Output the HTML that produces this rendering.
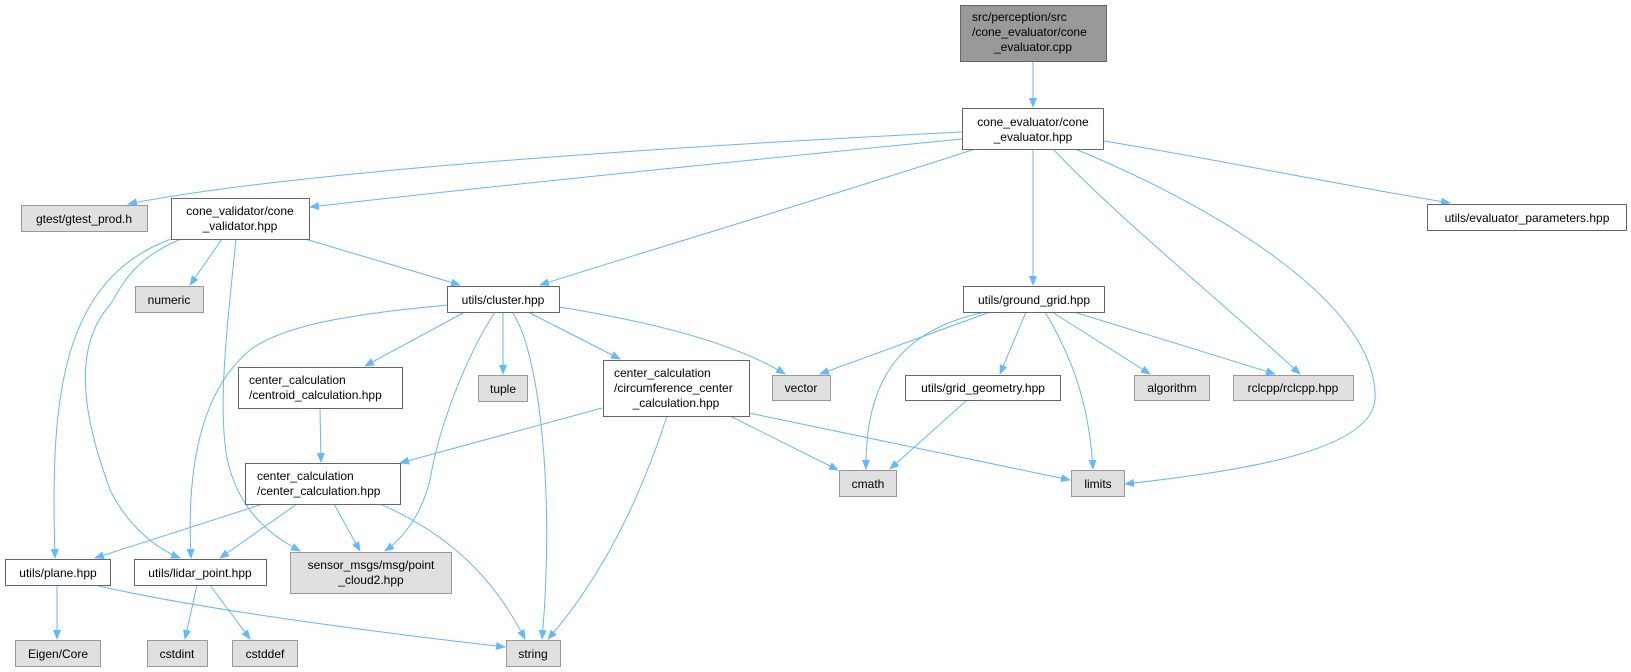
<!DOCTYPE html>
<html><head><meta charset="utf-8"><style>
html,body{margin:0;padding:0;background:#fff;}
svg{display:block;}
text{font-family:"Liberation Sans",Arial,sans-serif;font-size:12px;fill:#000;}
.n{fill:#fff;stroke:#666;stroke-width:1;}
.g{fill:#e0e0e0;stroke:#999;stroke-width:1;}
.r{fill:#999;stroke:#666;stroke-width:1;}
.e{fill:none;stroke:#63b8ff;stroke-width:1;}
</style></head><body>
<svg width="1631" height="672" viewBox="0 0 1631 672" xmlns="http://www.w3.org/2000/svg">
<defs><marker id="a" markerWidth="10" markerHeight="8" refX="9" refY="4" orient="auto" markerUnits="userSpaceOnUse"><path d="M0,0 L10,4 L0,8 Z" fill="#63b8ff"/></marker></defs>
<g marker-end="url(#a)">
<path class="e" d="M1033,61 L1033,107"/>
<path class="e" d="M962,132 C700,145 300,170 128,204"/>
<path class="e" d="M962,139 C800,155 500,185 310,207"/>
<path class="e" d="M975,149 C850,190 650,250 540,285"/>
<path class="e" d="M1033,149 L1033,285"/>
<path class="e" d="M1053,149 C1120,220 1220,300 1300,374"/>
<path class="e" d="M1075,149 C1200,200 1380,300 1375,400 C1370,450 1250,470 1125,484"/>
<path class="e" d="M1104,141 C1220,160 1340,185 1450,203"/>
<path class="e" d="M171,239 C60,280 50,400 55,558"/>
<path class="e" d="M181,239 C130,260 120,290 110,305 C60,360 100,460 110,490 C130,530 160,550 180,558"/>
<path class="e" d="M222,239 L190,285"/>
<path class="e" d="M236,239 C228,320 215,420 230,470 C245,520 280,540 300,551"/>
<path class="e" d="M305,239 L460,285"/>
<path class="e" d="M447,305 C380,312 290,320 250,350 C190,400 188,500 191,558"/>
<path class="e" d="M465,312 L365,366"/>
<path class="e" d="M503,312 L503,374"/>
<path class="e" d="M495,312 C470,350 440,420 430,480 C420,520 400,540 385,551"/>
<path class="e" d="M512,312 C540,350 555,500 542,639"/>
<path class="e" d="M528,312 L620,359"/>
<path class="e" d="M559,307 C640,320 730,340 785,374"/>
<path class="e" d="M320,408 L321,462"/>
<path class="e" d="M602,408 L400,463"/>
<path class="e" d="M667,416 C640,500 600,580 548,639"/>
<path class="e" d="M730,416 L838,470"/>
<path class="e" d="M749,413 L1070,480"/>
<path class="e" d="M263,504 L95,558"/>
<path class="e" d="M297,504 L220,558"/>
<path class="e" d="M334,504 L360,551"/>
<path class="e" d="M380,504 C440,530 490,570 525,639"/>
<path class="e" d="M990,312 L820,374"/>
<path class="e" d="M985,312 C900,330 865,380 866,469"/>
<path class="e" d="M1026,312 L1000,374"/>
<path class="e" d="M1045,312 C1080,370 1090,420 1093,469"/>
<path class="e" d="M1052,312 L1150,374"/>
<path class="e" d="M1074,312 L1275,374"/>
<path class="e" d="M967,400 L890,469"/>
<path class="e" d="M57,585 L57,639"/>
<path class="e" d="M95,585 C200,610 400,635 505,647"/>
<path class="e" d="M197,585 L185,639"/>
<path class="e" d="M210,585 L250,639"/>
</g>
<rect class="r" x="960.5" y="5.5" width="146" height="56"/>
<text x="972" y="21">src/perception/src</text><text x="972" y="36">/cone_evaluator/cone</text><text x="1033" y="51" text-anchor="middle">_evaluator.cpp</text>
<rect class="n" x="962.5" y="108.5" width="141" height="41"/>
<text x="1033" y="126" text-anchor="middle">cone_evaluator/cone</text><text x="1033" y="141" text-anchor="middle">_evaluator.hpp</text>
<rect class="g" x="21.5" y="205.5" width="126" height="26"/><text x="84" y="223" text-anchor="middle">gtest/gtest_prod.h</text>
<rect class="n" x="171.5" y="198.5" width="138" height="41"/>
<text x="240" y="215" text-anchor="middle">cone_validator/cone</text><text x="240" y="230" text-anchor="middle">_validator.hpp</text>
<rect class="n" x="1427.5" y="204.5" width="199" height="26"/><text x="1527" y="222" text-anchor="middle">utils/evaluator_parameters.hpp</text>
<rect class="g" x="135.5" y="286.5" width="68" height="26"/><text x="169" y="304" text-anchor="middle">numeric</text>
<rect class="n" x="447.5" y="286.5" width="112" height="26"/><text x="503" y="304" text-anchor="middle">utils/cluster.hpp</text>
<rect class="n" x="963.5" y="286.5" width="141" height="26"/><text x="1034" y="304" text-anchor="middle">utils/ground_grid.hpp</text>
<rect class="n" x="238.5" y="367.5" width="164" height="41"/>
<text x="249" y="384">center_calculation</text><text x="249" y="399">/centroid_calculation.hpp</text>
<rect class="g" x="478.5" y="375.5" width="49" height="26"/><text x="503" y="393" text-anchor="middle">tuple</text>
<rect class="n" x="603.5" y="360.5" width="146" height="56"/>
<text x="614" y="377">center_calculation</text><text x="614" y="392">/circumference_center</text><text x="676" y="407" text-anchor="middle">_calculation.hpp</text>
<rect class="g" x="772.5" y="375.5" width="58" height="25"/><text x="801" y="392" text-anchor="middle">vector</text>
<rect class="n" x="905.5" y="375.5" width="155" height="25"/><text x="983" y="392" text-anchor="middle">utils/grid_geometry.hpp</text>
<rect class="g" x="1134.5" y="375.5" width="75" height="25"/><text x="1172" y="392" text-anchor="middle">algorithm</text>
<rect class="g" x="1233.5" y="375.5" width="120" height="25"/><text x="1293" y="392" text-anchor="middle">rclcpp/rclcpp.hpp</text>
<rect class="n" x="245.5" y="463.5" width="155" height="41"/>
<text x="257" y="480">center_calculation</text><text x="257" y="495">/center_calculation.hpp</text>
<rect class="g" x="839.5" y="470.5" width="57" height="26"/><text x="868" y="488" text-anchor="middle">cmath</text>
<rect class="g" x="1071.5" y="470.5" width="53" height="26"/><text x="1098" y="488" text-anchor="middle">limits</text>
<rect class="n" x="5.5" y="559.5" width="105" height="26"/><text x="58" y="577" text-anchor="middle">utils/plane.hpp</text>
<rect class="n" x="134.5" y="559.5" width="132" height="26"/><text x="200" y="577" text-anchor="middle">utils/lidar_point.hpp</text>
<rect class="g" x="290.5" y="552.5" width="161" height="41"/>
<text x="371" y="569" text-anchor="middle">sensor_msgs/msg/point</text><text x="371" y="584" text-anchor="middle">_cloud2.hpp</text>
<rect class="g" x="15.5" y="640.5" width="85" height="26"/><text x="58" y="658" text-anchor="middle">Eigen/Core</text>
<rect class="g" x="147.5" y="640.5" width="60" height="26"/><text x="177" y="658" text-anchor="middle">cstdint</text>
<rect class="g" x="232.5" y="640.5" width="65" height="26"/><text x="265" y="658" text-anchor="middle">cstddef</text>
<rect class="g" x="506.5" y="640.5" width="54" height="26"/><text x="533" y="658" text-anchor="middle">string</text>
</svg>
</body></html>
